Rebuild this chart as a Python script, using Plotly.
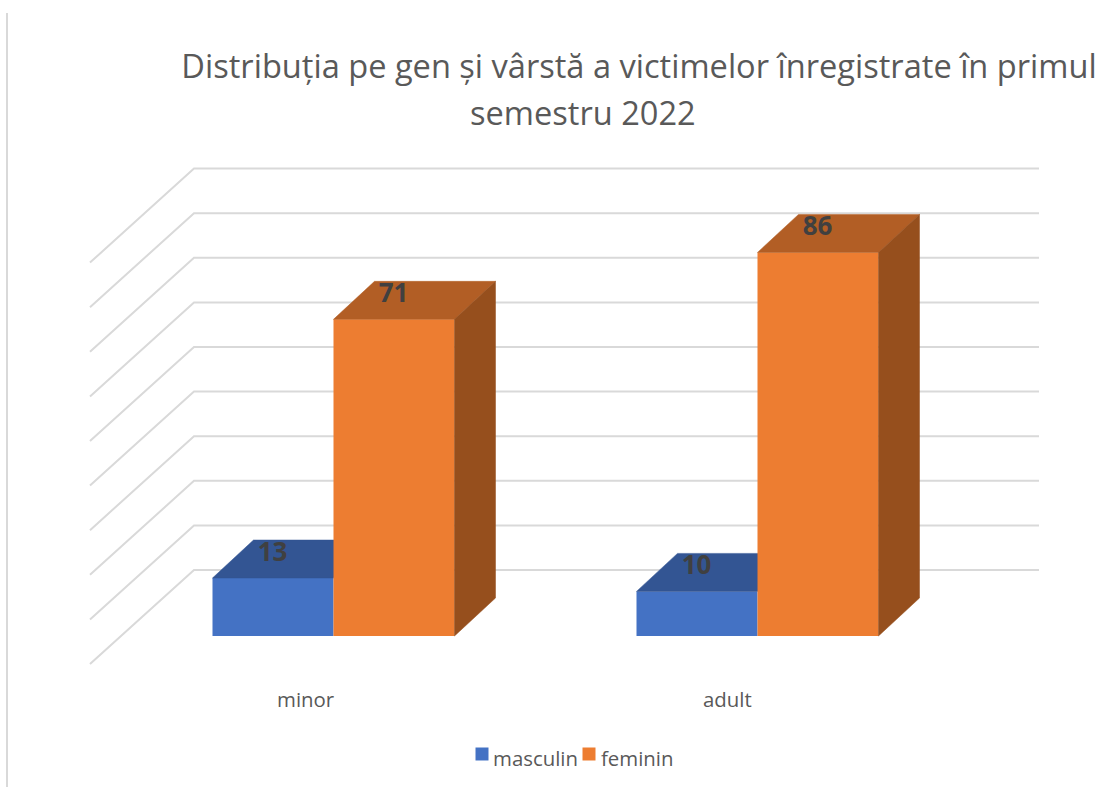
import plotly.graph_objects as go

# ---- data ----
categories = ["minor", "adult"]
masculin = [13, 10]
feminin = [71, 86]
grid_values = [0, 10, 20, 30, 40, 50, 60, 70, 80, 90]
title_line1 = "Distribuția pe gen și vârstă a victimelor înregistrate în primul"
title_line2 = "semestru 2022"
series_names = ["masculin", "feminin"]

# ---- geometry / style ----
W, H = 1110, 787
PX = 4.46            # pixels per value unit
BASE = 636           # pixel row of value 0 at the front of the bars
def u(px):           # pixel distance -> value units
    return px / PX
def row(py):         # pixel row -> value axis position
    return (BASE - py) / PX

group_left = [212.5, 636.5]
bar_w = 121
dx, dy = 41, u(38)
wall_left, wall_x0, wall_x1 = 90, 194, 1039
wall_back = u(66)    # back wall floor lies above front base
wall_front = u(-28)  # left end of side wall floor lies below front base
GRID = "#d9d9d9"
TXT = "#595959"
LBL = "#404040"
FONT = "Open Sans"
BLUE, BLUE_TOP = "#4472C4", "#335593"
ORANGE, ORANGE_TOP, ORANGE_SIDE = "#ED7D31", "#B25E25", "#964F1D"

fig = go.Figure()

# walls (first layer)
for v in grid_values:
    fig.add_trace(go.Scatter(
        x=[wall_left, wall_x0, wall_x1],
        y=[v + wall_front, v + wall_back, v + wall_back],
        mode="lines", line=dict(color=GRID, width=2),
        hoverinfo="skip", showlegend=False, xaxis="x", yaxis="y"))

def poly(xs, ys, color, layer):
    fig.add_trace(go.Scatter(x=xs, y=ys, mode="lines", fill="toself", fillcolor=color,
                             line=dict(color=color, width=0.5),
                             hoverinfo="skip", showlegend=False,
                             xaxis="x" + layer, yaxis="y" + layer))

# masculin (second layer); its side is hidden by the neighbouring bar
for left, v in zip(group_left, masculin):
    poly([left, left + dx, left + dx + bar_w, left + bar_w, left],
         [v, v + dy, v + dy, v, v], BLUE_TOP, "2")
fig.add_trace(go.Bar(x=[l + bar_w / 2 for l in group_left], y=masculin, width=bar_w,
                     marker=dict(color=BLUE, line=dict(width=0)),
                     name=series_names[0], showlegend=False, xaxis="x2", yaxis="y2"))

# feminin (third layer)
for left, v in zip(group_left, feminin):
    l = left + bar_w
    poly([l, l + dx, l + dx + bar_w, l + bar_w, l],
         [v, v + dy, v + dy, v, v], ORANGE_TOP, "3")
    poly([l + bar_w, l + bar_w + dx, l + bar_w + dx, l + bar_w, l + bar_w],
         [0, dy, v + dy, v, 0], ORANGE_SIDE, "3")
fig.add_trace(go.Bar(x=[l + bar_w * 1.5 for l in group_left], y=feminin, width=bar_w,
                     marker=dict(color=ORANGE, line=dict(width=0)),
                     name=series_names[1], showlegend=False, xaxis="x3", yaxis="y3"))

# value labels
for vals, shift in ((masculin, 0), (feminin, bar_w)):
    fig.add_trace(go.Scatter(
        x=[l + shift + 60 for l in group_left],
        y=[v + u(24) for v in vals],
        mode="text", text=[str(v) for v in vals],
        textposition="middle center",
        textfont=dict(family=FONT, size=26, color=LBL, weight="bold"),
        hoverinfo="skip", showlegend=False, xaxis="x3", yaxis="y3"))

# legend swatches
for sx, c in ((482, BLUE), (589, ORANGE)):
    fig.add_trace(go.Scatter(x=[sx], y=[row(754)], mode="markers",
                             marker=dict(symbol="square", size=13, color=c),
                             hoverinfo="skip", showlegend=False, xaxis="x3", yaxis="y3"))

ann = []
def label(text, x, py, size, anchor="center", color=TXT):
    ann.append(dict(text=text, x=x, y=row(py), xref="x", yref="y", showarrow=False,
                    xanchor=anchor, yanchor="middle",
                    font=dict(family=FONT, size=size, color=color)))

label(title_line2, 582.5, 112, 32.6)
for name, x in zip(categories, [306, 727]):
    label(name, x, 699, 20.4)
label(series_names[0], 491, 758, 20.4, "left")
label(series_names[1], 599, 758, 20.4, "left")

xa = dict(visible=False, range=[0, W], fixedrange=True)
ya = dict(visible=False, range=[row(H), row(0)], fixedrange=True)

fig.update_layout(
    width=W, height=H, margin=dict(l=0, r=0, t=0, b=0),
    paper_bgcolor="white", plot_bgcolor="white",
    barmode="overlay", showlegend=False, annotations=ann,
    title=dict(text=title_line1, x=639 / W, xanchor="center", y=1 - 67 / H, yanchor="middle",
               font=dict(family=FONT, size=32.6, color=TXT)),
    xaxis=xa, yaxis=ya,
    xaxis2=dict(xa, overlaying="x"), yaxis2=dict(ya, overlaying="y"),
    xaxis3=dict(xa, overlaying="x"), yaxis3=dict(ya, overlaying="y"),
    shapes=[dict(type="line", x0=7, x1=7, y0=row(13), y1=row(H), xref="x", yref="y",
                 line=dict(color=GRID, width=2), layer="below")],
)

fig.write_html("out.html", post_script="document.body.style.margin='0';",
               config=dict(displayModeBar=False))
